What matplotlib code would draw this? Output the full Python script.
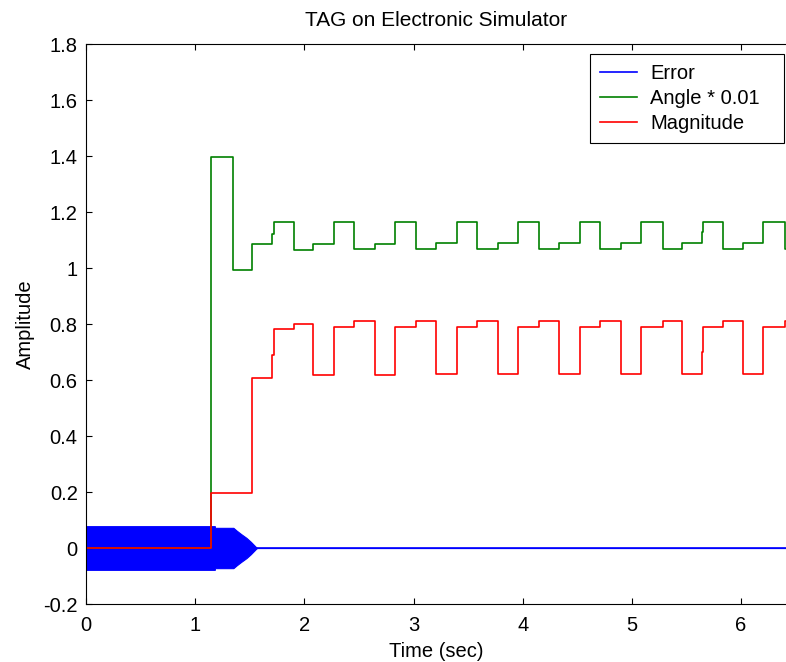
import matplotlib
matplotlib.use("Agg")
import matplotlib.pyplot as plt
from matplotlib.ticker import FormatStrFormatter

plt.rcParams['font.family'] = ['Liberation Sans', 'DejaVu Sans']

# step times (sec) shared by angle and magnitude
step_t = [0.0, 1.145, 1.347, 1.523, 1.707, 1.719, 1.903, 2.082, 2.274, 2.458,
          2.650, 2.830, 3.027, 3.206, 3.401, 3.584, 3.777, 3.960, 4.152, 4.335,
          4.528, 4.708, 4.903, 5.084, 5.283, 5.462, 5.640, 5.652, 5.832, 6.015,
          6.204, 6.403, 6.6]

angle = [0.0, 1.396, 0.993, 1.086, 1.120, 1.163, 1.064, 1.086, 1.163, 1.068,
         1.086, 1.163, 1.068, 1.088, 1.163, 1.068, 1.088, 1.163, 1.068, 1.088,
         1.163, 1.068, 1.088, 1.163, 1.068, 1.088, 1.127, 1.163, 1.068, 1.088,
         1.163, 1.068, 1.068]

magnitude = [0.0, 0.196, 0.196, 0.607, 0.689, 0.781, 0.801, 0.618, 0.788, 0.811,
             0.618, 0.789, 0.812, 0.620, 0.789, 0.812, 0.620, 0.789, 0.812, 0.620,
             0.789, 0.812, 0.620, 0.789, 0.812, 0.620, 0.701, 0.789, 0.812, 0.620,
             0.789, 0.812, 0.812]

# error: fast oscillation, kept as its envelope
err_t = [0.0, 1.18, 1.181, 1.35, 1.38, 1.42, 1.47, 1.51, 1.54, 1.56, 1.57, 6.6]
err_env = [0.078, 0.078, 0.072, 0.072, 0.062, 0.050, 0.036, 0.022, 0.010, 0.002, 0.0, 0.0]
err_mid = [0.0] * len(err_t)

fig = plt.figure(figsize=(7.86, 6.62), dpi=100)
ax = fig.add_axes([86 / 786, 58 / 662, 700 / 786, 560 / 662])

ax.fill_between(err_t, [-e for e in err_env], err_env, color='#0000ff', lw=0.8)
ax.plot(err_t, err_mid, color='#0000ff', lw=1.2, label='Error')
ax.step(step_t, angle, where='post', color='#008000', lw=1.2, label='Angle * 0.01')
ax.step(step_t, magnitude, where='post', color='#ff0000', lw=1.2, label='Magnitude')

ax.set_xlim(0, 700 / 109.17)
ax.set_ylim(-0.2, 1.8)
ax.set_xticks(range(0, 7))
ax.set_yticks([-0.2, 0, 0.2, 0.4, 0.6, 0.8, 1.0, 1.2, 1.4, 1.6, 1.8])
ax.yaxis.set_major_formatter(FormatStrFormatter('%g'))
ax.tick_params(direction='in', length=4.5, width=0.8, labelsize=14.5,
               top=True, right=False, colors='black')
ax.tick_params(axis='x', pad=8.5)
ax.tick_params(axis='y', pad=6)
ax.spines['right'].set_visible(False)
for s in ['left', 'bottom', 'top']:
    ax.spines[s].set_linewidth(0.8)

ax.set_xlabel('Time (sec)', fontsize=14.5, labelpad=5)
ax.set_ylabel('Amplitude', fontsize=14.5, labelpad=6)
ax.set_title('TAG on Electronic Simulator', fontsize=15, pad=13)

leg = ax.legend(loc='upper left', bbox_to_anchor=(0.72, 0.70, 0.277, 0.2816),
                mode='expand', borderaxespad=0,
                fontsize=14.5, fancybox=False, edgecolor='black', framealpha=1,
                handlelength=1.85, handletextpad=0.65, borderpad=0.5,
                labelspacing=0.28)
leg.get_frame().set_linewidth(0.8)

fig.savefig('out.png', dpi=100)
